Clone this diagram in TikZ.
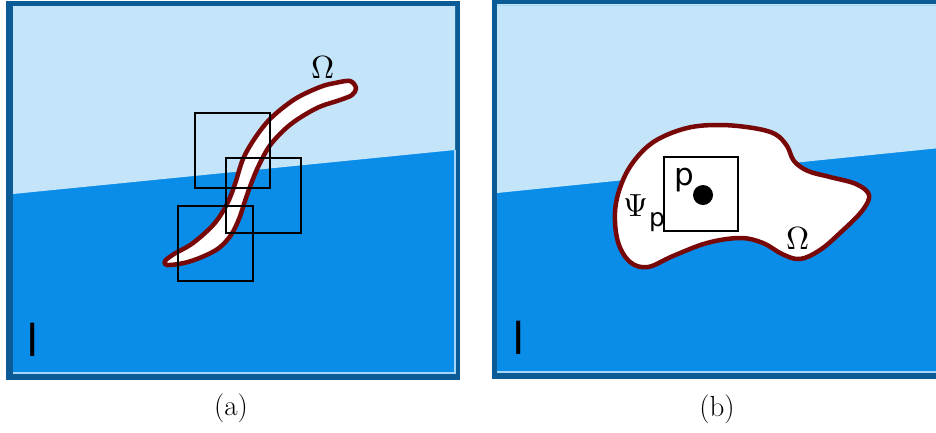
\documentclass[tikz,border=0pt]{standalone}
\usepackage{unicode-math}
\setmathfont{Latin Modern Math}
\newfontfamily\dvsans{DejaVu Sans}
\definecolor{frameblue}{HTML}{0A5B96}
\definecolor{skyblue}{HTML}{C3E4F9}
\definecolor{deepblue}{HTML}{0A8DE9}
\definecolor{bevel}{HTML}{A5D5F7}
\definecolor{wormred}{HTML}{780808}
\tikzset{
  win/.style={black, line width=1.5pt},
  shapeline/.style={draw=wormred, fill=white, line width=4.5pt, line join=round},
  lbl/.style={inner sep=0pt, font=\fontsize{32}{36}\selectfont},
  plbl/.style={inner sep=0pt, font=\dvsans\fontsize{31}{34}\selectfont},
  ilbl/.style={inner sep=0pt, font=\sffamily\fontsize{48}{50}\selectfont},
  captxt/.style={inner sep=0pt, font=\fontsize{29}{32}\selectfont}
}
\begin{document}
\begin{tikzpicture}[x=1pt,y=-1pt]
\useasboundingbox (0,0) rectangle (936,432);
\fill[white] (0,0) rectangle (936,432);
% ---------- panel (a)
\fill[frameblue] (6,1) rectangle (460,380);
\fill[deepblue] (13,6) rectangle (455,373);
\fill[skyblue] (13,6) -- (455,6) -- (455,150) -- (13,194) -- cycle;
\draw[bevel, line width=2pt] (13,373) -- (455,373) -- (455,150);
\node[ilbl] (ia) at (33,340) {I};
\draw[shapeline] plot[smooth cycle, tension=0.55] coordinates {
 (167,265) (184,263) (202,257) (219,248) (231,235) (239,219) (245,201)
 (251,184) (259,165) (271,144) (291,124) (317,108) (340,100) (352,95) (356,88)
 (350,81) (335,83) (320,87) (295,99) (271,118) (255,138) (243,159)
 (235,184) (227,204) (214,224) (193,243) (174,254) (165,261)};
\draw[win] (195,113) rectangle (270,188);
\draw[win] (226,158) rectangle (301,233);
\draw[win] (178,206) rectangle (253,281);
\node[lbl] (omegaa) at (323,67) {$\Omega$};
\node[captxt] (capa) at (231,408) {(a)};
% ---------- panel (b)
\fill[frameblue] (492,0) rectangle (950,379);
\fill[deepblue] (497,4) rectangle (950,371);
\fill[skyblue] (497,4) -- (950,4) -- (950,147) -- (497,193) -- cycle;
\draw[bevel, line width=2pt] (497,371.5) -- (950,371.5);
\draw[bevel, line width=1pt] (497,5) -- (950,5);
\node[ilbl] (ib) at (519,338) {I};
\draw[shapeline] plot[smooth cycle, tension=0.6] coordinates {
 (615,212) (621,185) (634,161) (655,141) (687,128) (720,125) (753,128)
 (775,134) (787,146) (794,161) (808,171) (830,177) (856,184) (869,195) (862,211)
 (840,233) (820,250) (800,259) (782,254) (763,243) (740,238) (707,243)
 (673,256) (648,267) (630,262) (618,242)};
\draw[win] (664,157) rectangle (738,231);
\fill[black] (703,195) circle (10);
\node[plbl] (p) at (684,180) {p};
\node[lbl] (psi) at (636,206) {$\Psi$};
\node[plbl, font=\dvsans\fontsize{25}{28}\selectfont] (psisub) at (657,222) {p};
\node[lbl] (omegab) at (798,238) {$\Omega$};
\node[captxt] (capb) at (717,409) {(b)};
\end{tikzpicture}
\end{document}
